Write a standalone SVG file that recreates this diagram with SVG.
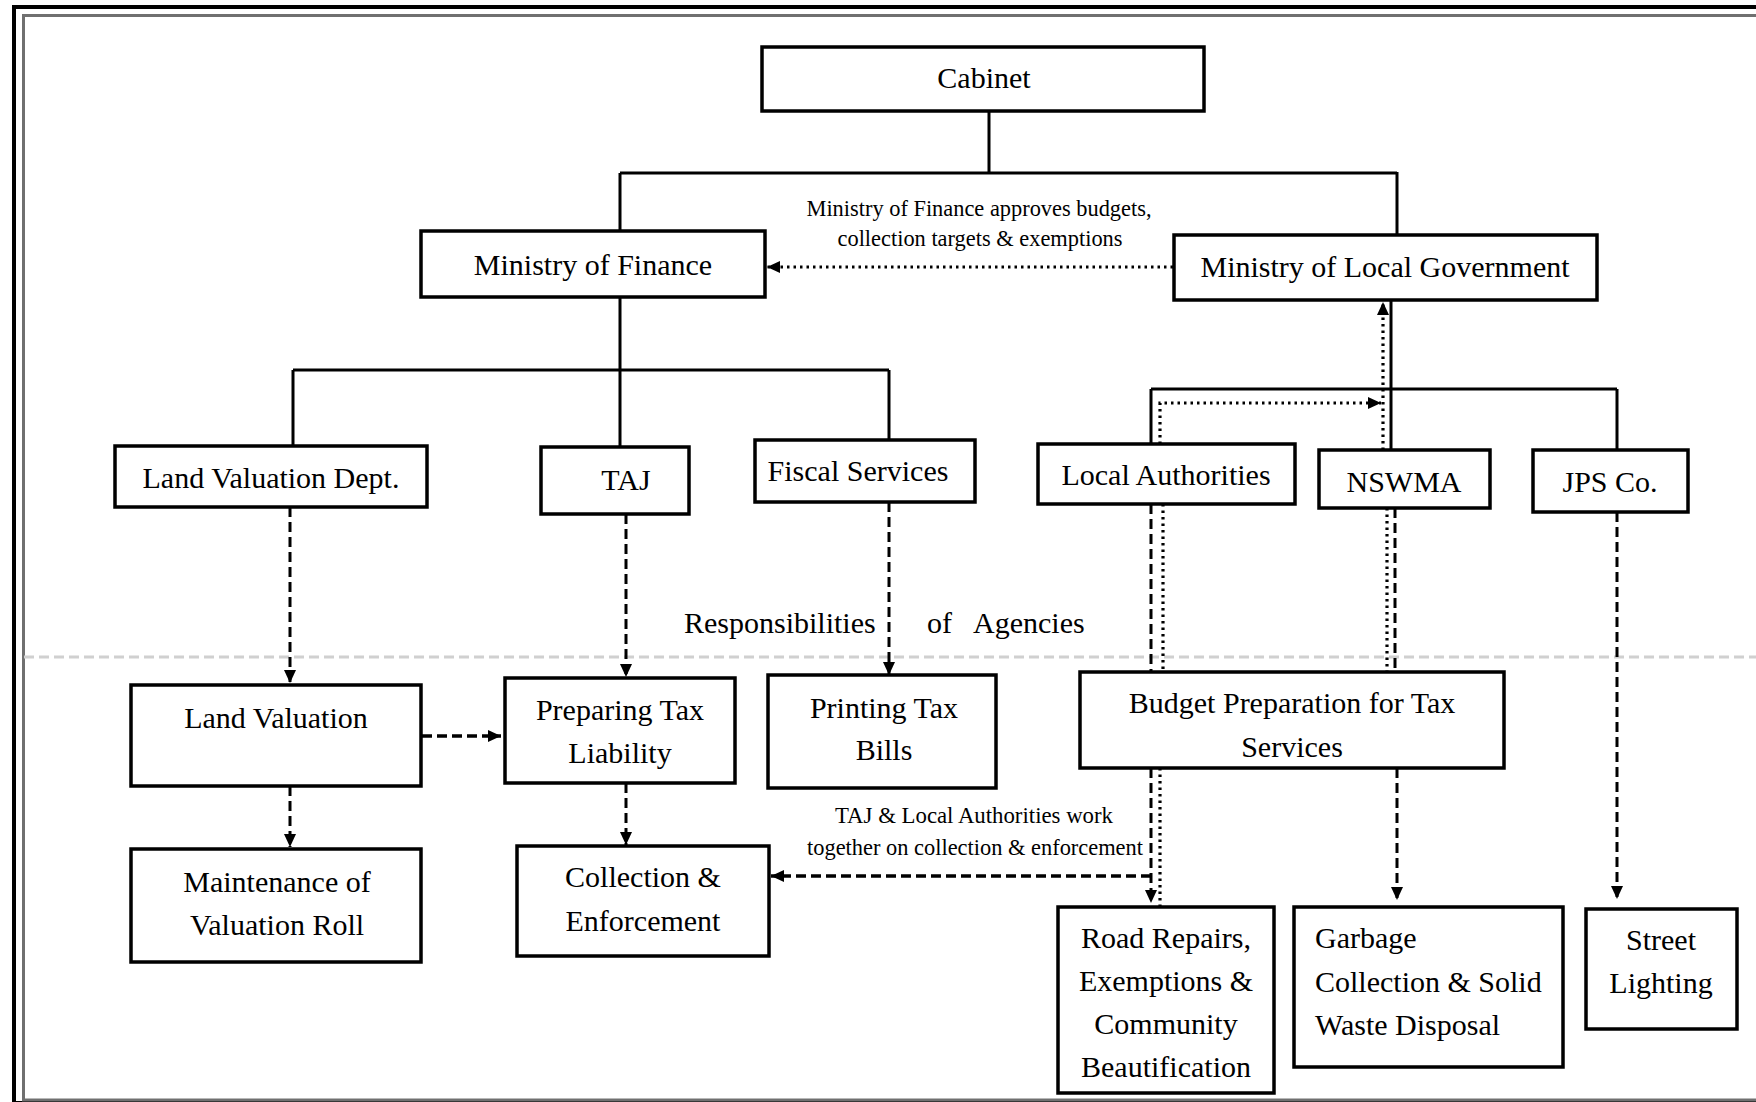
<svg xmlns="http://www.w3.org/2000/svg" width="1756" height="1102" viewBox="0 0 1756 1102">
<defs>
<style>
.box{fill:#fff;stroke:#000;stroke-width:3.5}
.t{font-family:"Liberation Serif","Times New Roman",serif;font-size:30px;fill:#000;text-anchor:middle}
.tl{font-family:"Liberation Serif","Times New Roman",serif;font-size:30px;fill:#000;text-anchor:start}
.lab{font-family:"Liberation Serif","Times New Roman",serif;font-size:24px;fill:#000;text-anchor:middle}
.solid{fill:none;stroke:#000;stroke-width:3}
.dash{fill:none;stroke:#000;stroke-width:3;stroke-dasharray:10 5}
.dot{fill:none;stroke:#000;stroke-width:3.2;stroke-dasharray:2.5 4}
.sep{fill:none;stroke:#d0d0d0;stroke-width:3;stroke-dasharray:10 5}
</style>
<marker id="ah" markerUnits="userSpaceOnUse" markerWidth="14" markerHeight="14" viewBox="0 0 14 14" refX="13" refY="7" orient="auto">
<path d="M0,1 L13,7 L0,13 z" fill="#000"/>
</marker>
</defs>
<rect width="1756" height="1102" fill="#fff"/>
<g id="frame">
<rect x="14" y="7" width="1800" height="1096" fill="none" stroke="#000" stroke-width="4"/>
<rect x="23.5" y="15.5" width="1800" height="1084.5" fill="none" stroke="#707070" stroke-width="3"/>
</g>
<line class="sep" x1="24" y1="657" x2="1756" y2="657"/>
<g id="connectors">
<path class="solid" d="M989,111 V172 M620,173 H1397 M620,173 V231 M1397,172 V235"/>
<path class="solid" d="M620,297 V370 M293,370 H889 M293,370 V446 M620,370 V447 M889,370 V440"/>
<path class="solid" d="M1391,300 V450 M1151,389 H1617 M1151,389 V444 M1617,389 V450"/>
<path class="dot" d="M1173,267 H767" marker-end="url(#ah)"/>
<path class="dot" d="M1160,444 V403 H1381" marker-end="url(#ah)"/>
<path class="dot" d="M1383,450 V302" marker-end="url(#ah)"/>
<path class="dash" d="M290,507 V683" marker-end="url(#ah)"/>
<path class="dash" d="M626,514 V677" marker-end="url(#ah)"/>
<path class="dash" d="M889,502 V675" marker-end="url(#ah)"/>
<path class="dash" d="M1151,504 V672"/>
<path class="dot" d="M1163,504 V672"/>
<path class="dot" d="M1387,508 V672"/>
<path class="dash" d="M1395,508 V672"/>
<path class="dash" d="M1617,512 V899" marker-end="url(#ah)"/>
<path class="dash" style="stroke-width:3.5" d="M422,736 H501" marker-end="url(#ah)"/>
<path class="dash" d="M290,786 V847" marker-end="url(#ah)"/>
<path class="dash" d="M626,783 V845" marker-end="url(#ah)"/>
<path class="dash" d="M1151,768 V903" marker-end="url(#ah)"/>
<path class="dot" d="M1160,768 V907"/>
<path class="dash" style="stroke-width:3.5" d="M1151,876 H771" marker-end="url(#ah)"/>
<path class="dash" d="M1397,768 V900" marker-end="url(#ah)"/>
</g>
<g id="labels">
<text class="lab" x="979" y="216" textLength="345" lengthAdjust="spacingAndGlyphs">Ministry of Finance approves budgets,</text>
<text class="lab" x="980" y="246" textLength="285" lengthAdjust="spacingAndGlyphs">collection targets &amp; exemptions</text>
<text class="lab" x="974" y="823" textLength="278" lengthAdjust="spacingAndGlyphs">TAJ &amp; Local Authorities work</text>
<text class="lab" x="975" y="855" textLength="336" lengthAdjust="spacingAndGlyphs">together on collection &amp; enforcement</text>
<text class="tl" y="633"><tspan x="684">Responsibilities</tspan><tspan x="927">of</tspan><tspan x="973">Agencies</tspan></text>
</g>
<g id="cabinet"><rect class="box" x="762" y="47" width="442" height="64"/><text class="t" x="984" y="88">Cabinet</text></g>
<g id="mof"><rect class="box" x="421" y="231" width="344" height="66"/><text class="t" x="593" y="275">Ministry of Finance</text></g>
<g id="molg"><rect class="box" x="1174" y="235" width="423" height="65"/><text class="t" x="1385" y="277">Ministry of Local Government</text></g>
<g id="lvd"><rect class="box" x="115" y="446" width="312" height="61"/><text class="t" x="271" y="488">Land Valuation Dept.</text></g>
<g id="taj"><rect class="box" x="541" y="447" width="148" height="67"/><text class="t" x="626" y="490">TAJ</text></g>
<g id="fiscal"><rect class="box" x="755" y="440" width="220" height="62"/><text class="t" x="858" y="481">Fiscal Services</text></g>
<g id="la"><rect class="box" x="1038" y="444" width="257" height="60"/><text class="t" x="1166" y="485">Local Authorities</text></g>
<g id="nswma"><rect class="box" x="1319" y="450" width="171" height="58"/><text class="t" x="1404" y="492">NSWMA</text></g>
<g id="jps"><rect class="box" x="1533" y="450" width="155" height="62"/><text class="t" x="1610" y="492">JPS Co.</text></g>
<g id="landval"><rect class="box" x="131" y="685" width="290" height="101"/><text class="t" x="276" y="728">Land Valuation</text></g>
<g id="preparing"><rect class="box" x="505" y="678" width="230" height="105"/><text class="t" x="620" y="720">Preparing Tax</text><text class="t" x="620" y="763">Liability</text></g>
<g id="printing"><rect class="box" x="768" y="675" width="228" height="113"/><text class="t" x="884" y="718">Printing Tax</text><text class="t" x="884" y="760">Bills</text></g>
<g id="budget"><rect class="box" x="1080" y="672" width="424" height="96"/><text class="t" x="1292" y="713">Budget Preparation for Tax</text><text class="t" x="1292" y="757">Services</text></g>
<g id="maint"><rect class="box" x="131" y="849" width="290" height="113"/><text class="t" x="277" y="892">Maintenance of</text><text class="t" x="277" y="935">Valuation Roll</text></g>
<g id="collection"><rect class="box" x="517" y="846" width="252" height="110"/><text class="t" x="643" y="887">Collection &amp;</text><text class="t" x="643" y="931">Enforcement</text></g>
<g id="road"><rect class="box" x="1058" y="907" width="216" height="186"/><text class="t" x="1166" y="948">Road Repairs,</text><text class="t" x="1166" y="991">Exemptions &amp;</text><text class="t" x="1166" y="1034">Community</text><text class="t" x="1166" y="1077">Beautification</text></g>
<g id="garbage"><rect class="box" x="1294" y="907" width="269" height="160"/><text class="tl" x="1315" y="948">Garbage</text><text class="tl" x="1315" y="992">Collection &amp; Solid</text><text class="tl" x="1315" y="1035">Waste Disposal</text></g>
<g id="street"><rect class="box" x="1586" y="909" width="151" height="120"/><text class="t" x="1661" y="950">Street</text><text class="t" x="1661" y="993">Lighting</text></g>
</svg>
